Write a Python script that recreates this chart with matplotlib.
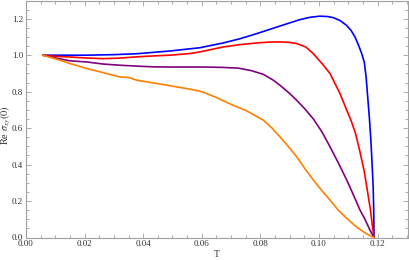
import matplotlib
matplotlib.use("Agg")
import matplotlib.pyplot as plt
from matplotlib.ticker import MultipleLocator, FormatStrFormatter

# curves (T, Re sigma_xy(0))
t_blue = [0.0057, 0.015, 0.0207, 0.030, 0.0378, 0.0491, 0.0594, 0.0673, 0.0730, 0.0787,
          0.0867, 0.0935, 0.0970, 0.1003, 0.1030, 0.1049, 0.1072, 0.1094, 0.1110, 0.1123,
          0.1135, 0.1146, 0.1155, 0.1161, 0.1166, 0.1172, 0.1177, 0.1181, 0.1185, 0.1187, 0.1188]
v_blue = [1.0, 1.0, 1.0, 1.003, 1.008, 1.023, 1.041, 1.067, 1.090, 1.118,
          1.160, 1.195, 1.208, 1.214, 1.212, 1.206, 1.190, 1.164, 1.135, 1.100,
          1.055, 1.009, 0.96, 0.88, 0.78, 0.66, 0.54, 0.42, 0.28, 0.15, 0.0]

t_red = [0.0057, 0.010, 0.015, 0.020, 0.0264, 0.032, 0.0378, 0.0435, 0.0491, 0.0560,
         0.0594, 0.0673, 0.0730, 0.0787, 0.0830, 0.0867, 0.0900, 0.0924, 0.0955, 0.0981,
         0.1010, 0.1038, 0.1072, 0.1095, 0.1110, 0.1125, 0.1140, 0.1155, 0.1165, 0.1175,
         0.1182, 0.1188]
v_red = [1.0, 0.994, 0.99, 0.985, 0.981, 0.984, 0.991, 0.996, 1.0, 1.009,
         1.018, 1.045, 1.058, 1.067, 1.072, 1.073, 1.070, 1.064, 1.045, 1.008,
         0.955, 0.899, 0.789, 0.698, 0.640, 0.570, 0.470, 0.360, 0.260, 0.160,
         0.070, 0.0]

t_purple = [0.0057, 0.010, 0.015, 0.0207, 0.026, 0.032, 0.038, 0.0435, 0.050, 0.056,
            0.0611, 0.0670, 0.0725, 0.077, 0.0810, 0.0844, 0.0867, 0.0900, 0.0924, 0.0955,
            0.0981, 0.1010, 0.1038, 0.1066, 0.1095, 0.1120, 0.1140, 0.1157, 0.1174, 0.1188]
v_purple = [1.0, 0.985, 0.969, 0.963, 0.952, 0.945, 0.940, 0.936, 0.935, 0.935,
            0.935, 0.933, 0.929, 0.915, 0.895, 0.863, 0.835, 0.790, 0.753, 0.700,
            0.650, 0.580, 0.497, 0.410, 0.315, 0.225, 0.151, 0.100, 0.041, 0.0]

t_orange = [0.0057, 0.009, 0.012, 0.015, 0.017, 0.0207, 0.025, 0.029, 0.032, 0.035,
            0.038, 0.0435, 0.049, 0.0548, 0.0594, 0.0611, 0.065, 0.0696, 0.0753, 0.0810,
            0.0840, 0.0867, 0.0895, 0.0924, 0.0952, 0.0981, 0.1010, 0.1038, 0.1066, 0.1095,
            0.1125, 0.1151, 0.1172, 0.1188]
v_orange = [1.0, 0.985, 0.970, 0.954, 0.945, 0.927, 0.910, 0.893, 0.881, 0.878,
            0.862, 0.848, 0.833, 0.817, 0.803, 0.793, 0.768, 0.733, 0.695, 0.644,
            0.600, 0.552, 0.500, 0.443, 0.378, 0.315, 0.257, 0.205, 0.150, 0.105,
            0.062, 0.032, 0.012, 0.0]

series = [(t_blue, v_blue, (0, 0, 1)),
          (t_red, v_red, (1, 0, 0)),
          (t_purple, v_purple, (0.5, 0, 0.5)),
          (t_orange, v_orange, (1, 0.5, 0))]

plt.rcParams['font.family'] = ['Liberation Serif', 'DejaVu Serif']
plt.rcParams['mathtext.fontset'] = 'stix'

fig = plt.figure(figsize=(4.09, 2.60), dpi=100)
ax = fig.add_axes([26 / 409, 22.5 / 260, 382 / 409, 237 / 260])

for t, v, c in series:
    ax.plot(t, v, color=c, lw=1.2, solid_joinstyle='round', solid_capstyle='round')

ax.set_xlim(0, 0.1304)
ax.set_ylim(0, 1.30)

frame = '#a0a0a0'
for s in ax.spines.values():
    s.set_color(frame)
    s.set_linewidth(0.8)

ax.xaxis.set_major_locator(MultipleLocator(0.02))
ax.xaxis.set_minor_locator(MultipleLocator(0.005))
ax.yaxis.set_major_locator(MultipleLocator(0.2))
ax.yaxis.set_minor_locator(MultipleLocator(0.05))
ax.xaxis.set_major_formatter(FormatStrFormatter('%.2f'))
ax.yaxis.set_major_formatter(FormatStrFormatter('%.1f'))
ax.tick_params(which='both', direction='in', top=True, right=True,
               color=frame, width=0.6, labelsize=6.5, labelcolor='#333333')
ax.tick_params(which='major', length=3.5, pad=2)
ax.tick_params(which='minor', length=2)

ax.set_xlabel('T', fontsize=7, color='#333333', labelpad=1)
ax.set_ylabel(r'Re $\sigma_{xy}(0)$', fontsize=7.5, color='#333333')
ax.yaxis.set_label_coords(-0.034, 0.473)

fig.savefig('out.png', dpi=100)
